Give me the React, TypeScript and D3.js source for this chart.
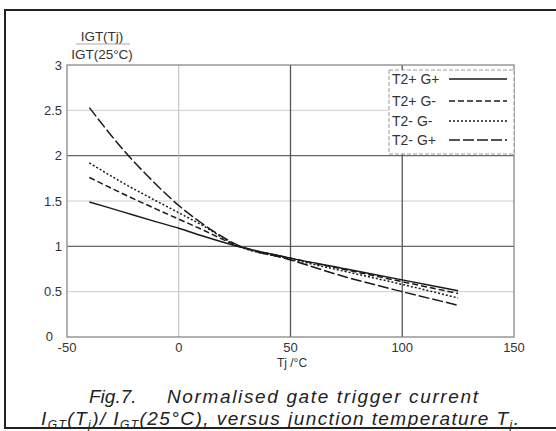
import React from "react";
import * as d3 from "d3";

const temps = [-40, -25, -10, 0, 10, 25, 50, 75, 100, 125];
const t2pGp = [1.49, 1.38, 1.27, 1.2, 1.12, 1.01, 0.87, 0.75, 0.63, 0.51];
const t2pGm = [1.76, 1.58, 1.41, 1.3, 1.19, 1.02, 0.87, 0.74, 0.61, 0.48];
const t2mGm = [1.92, 1.7, 1.5, 1.37, 1.24, 1.02, 0.86, 0.72, 0.58, 0.43];
const t2mGp = [2.53, 2.07, 1.68, 1.45, 1.26, 1.03, 0.85, 0.66, 0.5, 0.35];

const seriesNames = ["T2+ G+", "T2+ G-", "T2- G-", "T2- G+"];
const seriesValues = [t2pGp, t2pGm, t2mGm, t2mGp];
const seriesDash = ["none", "6,3", "2,2", "11,3"];

const xTicks = [-50, 0, 50, 100, 150];
const yTicks = [0, 0.5, 1, 1.5, 2, 2.5, 3];
const yTickLabels = ["0", "0.5", "1", "1.5", "2", "2.5", "3"];
const darkX = [50, 100];
const darkY = [1, 2];

export default function App() {
  const W = 556;
  const H = 431;
  const x = d3.scaleLinear().domain([-50, 150]).range([67, 514]);
  const y = d3.scaleLinear().domain([0, 3]).range([337, 65]);
  const line = d3
    .line<number>()
    .x((_, i) => x(temps[i]))
    .y((d) => y(d))
    .curve(d3.curveMonotoneX);
  const font = "'Liberation Sans', Arial, sans-serif";
  const txt = "#333";

  return (
    <svg
      width={W}
      height={H}
      style={{ position: "absolute", left: 0, top: 0, background: "#fff" }}
      fontFamily={font}
    >
      <rect x={0} y={0} width={W} height={H} fill="#fff" />
      {/* outer frame */}
      <rect x={5} y={10} width={W + 10} height={418} fill="none" stroke="#222" strokeWidth={2} />

      {/* gridlines */}
      {yTicks.filter((v) => v > 0 && v < 3).map((v) => (
        <line
          key={"gy" + v}
          x1={x(-50)}
          x2={x(150)}
          y1={y(v)}
          y2={y(v)}
          stroke={darkY.includes(v) ? "#666" : "#ccc"}
          strokeWidth={darkY.includes(v) ? 1.3 : 1}
        />
      ))}
      {xTicks.filter((v) => v > -50 && v < 150).map((v) => (
        <line
          key={"gx" + v}
          x1={x(v)}
          x2={x(v)}
          y1={y(0)}
          y2={y(3)}
          stroke={darkX.includes(v) ? "#555" : "#bbb"}
          strokeWidth={darkX.includes(v) ? 1.3 : 1}
        />
      ))}
      {/* plot frame */}
      <rect
        x={x(-50)}
        y={y(3)}
        width={x(150) - x(-50)}
        height={y(0) - y(3)}
        fill="none"
        stroke="#888"
        strokeWidth={1.3}
      />

      {/* y tick labels */}
      {yTicks.map((v, i) =>
        v === 0 ? (
          <text key={"yl" + v} x={53} y={341} textAnchor="end" fontSize={13} fill={txt}>
            {yTickLabels[i]}
          </text>
        ) : (
          <text key={"yl" + v} x={62} y={y(v) + 4.5} textAnchor="end" fontSize={13} fill={txt}>
            {yTickLabels[i]}
          </text>
        )
      )}
      {/* x tick labels */}
      {xTicks.map((v) => (
        <text key={"xl" + v} x={x(v)} y={352} textAnchor="middle" fontSize={13} fill={txt}>
          {String(v)}
        </text>
      ))}
      <text x={292} y={367} textAnchor="middle" fontSize={12} fill={txt}>
        Tj /°C
      </text>

      {/* y axis title (fraction) */}
      <text x={102} y={41} textAnchor="middle" fontSize={13.5} fill={txt}>
        IGT(Tj)
      </text>
      <line x1={76} x2={130} y1={44} y2={44} stroke="#aaa" strokeWidth={1} />
      <text x={102} y={59} textAnchor="middle" fontSize={13.5} fill={txt}>
        IGT(25°C)
      </text>

      {/* curves */}
      {seriesValues.map((vals, i) => (
        <path
          key={"s" + i}
          d={line(vals) || ""}
          fill="none"
          stroke="#1a1a1a"
          strokeWidth={1.5}
          strokeDasharray={seriesDash[i]}
        />
      ))}

      {/* legend */}
      <rect x={389} y={70} width={125} height={84} fill="#fff" stroke="#999" strokeDasharray="4,2" />
      {seriesNames.map((name, i) => {
        const cy = [79, 101, 121, 140][i];
        return (
          <g key={"lg" + i}>
            <text x={392} y={cy + 5} fontSize={14} fill={txt}>
              {name}
            </text>
            <line
              x1={449}
              x2={507}
              y1={cy}
              y2={cy}
              stroke="#1a1a1a"
              strokeWidth={1.5}
              strokeDasharray={seriesDash[i]}
            />
          </g>
        );
      })}

      {/* caption */}
      <text x={89} y={403} fontSize={19} fontStyle="italic" fill="#222">
        Fig.7.
      </text>
      <text x={167} y={403} fontSize={19} fontStyle="italic" fill="#222" textLength={311} lengthAdjust="spacing">
        Normalised gate trigger current
      </text>
      <text x={41} y={424.5} fontSize={19} fontStyle="italic" fill="#222" textLength={478} lengthAdjust="spacing">
        <tspan>I</tspan>
        <tspan fontSize={12} dy={4}>GT</tspan>
        <tspan dy={-4}>(T</tspan>
        <tspan fontSize={12} dy={4}>j</tspan>
        <tspan dy={-4}>)/ I</tspan>
        <tspan fontSize={12} dy={4}>GT</tspan>
        <tspan dy={-4}>(25°C), versus junction temperature T</tspan>
        <tspan fontSize={12} dy={4}>j</tspan>
        <tspan dy={-4}>.</tspan>
      </text>
    </svg>
  );
}
